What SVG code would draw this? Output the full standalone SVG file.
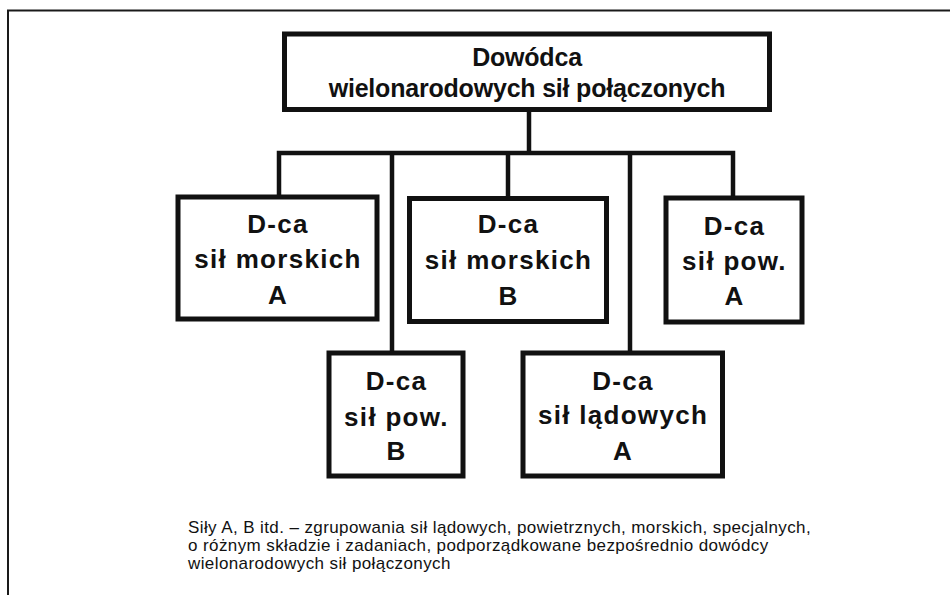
<svg xmlns="http://www.w3.org/2000/svg" width="950" height="595" viewBox="0 0 950 595">
  <style>
    .frame { fill: none; stroke: #1a1a1a; stroke-width: 2; }
    .box { fill: #ffffff; stroke: #111111; stroke-width: 5; }
    .link { fill: none; stroke: #111111; stroke-width: 4.5; stroke-linejoin: miter; }
    .head { font-family: "Liberation Sans", Arial, sans-serif; font-weight: bold; font-size: 25px; letter-spacing: -0.2px; fill: #111111; text-anchor: middle; }
    .lbl { font-family: "Liberation Sans", Arial, sans-serif; font-weight: bold; font-size: 26px; letter-spacing: 1.3px; fill: #111111; text-anchor: middle; }
    .note { font-family: "Liberation Sans", Arial, sans-serif; font-size: 17px; letter-spacing: 0.4px; fill: #111111; }
  </style>
  <rect width="950" height="595" fill="#ffffff"/>

  <!-- outer frame: top and left edges -->
  <path class="frame" d="M8,595 V10.5 H950"/>

  <!-- connectors -->
  <g id="connectors">
    <path class="link" d="M529,109.5 V153"/>
    <path class="link" d="M279,197 V153 H733 V198"/>
    <path class="link" d="M392,153 V353"/>
    <path class="link" d="M508,153 V198.5"/>
    <path class="link" d="M630,153 V353"/>
  </g>

  <g id="dowodca">
    <rect class="box" x="284.5" y="34" width="485" height="75.5"/>
    <text class="head" x="527" y="66">Dowódca</text>
    <text class="head" x="527" y="97">wielonarodowych sił połączonych</text>
  </g>

  <g id="morskie-a">
    <rect class="box" x="178" y="197" width="199" height="122"/>
    <text class="lbl" x="278" y="233">D-ca</text>
    <text class="lbl" x="278" y="268">sił morskich</text>
    <text class="lbl" x="278" y="304">A</text>
  </g>

  <g id="morskie-b">
    <rect class="box" x="409.5" y="198.5" width="197" height="123"/>
    <text class="lbl" x="508.5" y="233">D-ca</text>
    <text class="lbl" x="508.5" y="269">sił morskich</text>
    <text class="lbl" x="508.5" y="305">B</text>
  </g>

  <g id="powietrzne-a">
    <rect class="box" x="666" y="198" width="136" height="124"/>
    <text class="lbl" x="734.5" y="235">D-ca</text>
    <text class="lbl" x="734.5" y="270">sił pow.</text>
    <text class="lbl" x="734.5" y="305">A</text>
  </g>

  <g id="powietrzne-b">
    <rect class="box" x="329" y="353" width="134" height="123"/>
    <text class="lbl" x="396.5" y="390">D-ca</text>
    <text class="lbl" x="396.5" y="426">sił pow.</text>
    <text class="lbl" x="396.5" y="460">B</text>
  </g>

  <g id="ladowe-a">
    <rect class="box" x="523" y="353" width="199.5" height="123"/>
    <text class="lbl" x="623" y="390">D-ca</text>
    <text class="lbl" x="623" y="424">sił lądowych</text>
    <text class="lbl" x="623" y="460">A</text>
  </g>

  <!-- explanatory note -->
  <g id="note">
    <text class="note" x="188" y="533">Siły A, B itd. – zgrupowania sił lądowych, powietrznych, morskich, specjalnych,</text>
    <text class="note" x="188" y="551">o różnym składzie i zadaniach, podporządkowane bezpośrednio dowódcy</text>
    <text class="note" x="188" y="569">wielonarodowych sił połączonych</text>
  </g>
</svg>
